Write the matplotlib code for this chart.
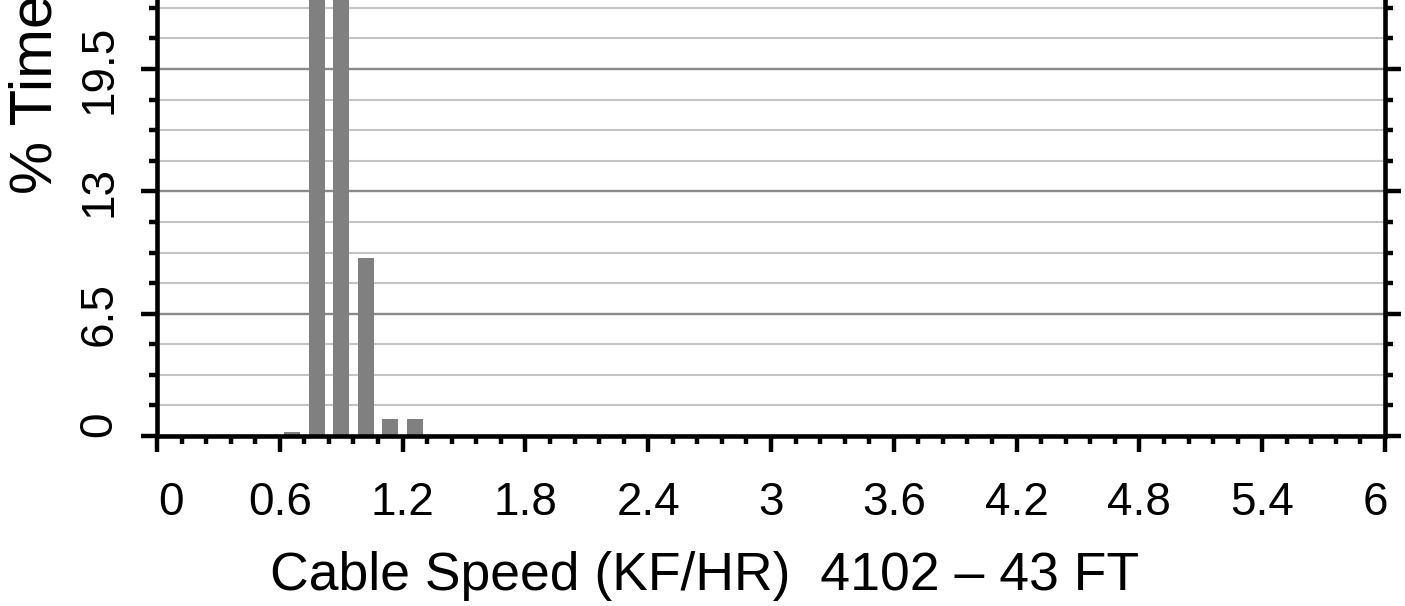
import numpy as np
import matplotlib
matplotlib.use("Agg")
import matplotlib.pyplot as plt
from matplotlib.transforms import ScaledTranslation

plt.rcParams['font.family'] = ['Liberation Sans', 'DejaVu Sans']

# histogram bins (bin centres, KF/HR) and % time
speed = [0.66, 0.78, 0.90, 1.02, 1.14, 1.26]
pct_time = [0.23, 45.0, 43.5, 9.44, 0.89, 0.89]

x_ticks = [0, 0.6, 1.2, 1.8, 2.4, 3, 3.6, 4.2, 4.8, 5.4, 6]
x_labels = ['0', '0.6', '1.2', '1.8', '2.4', '3', '3.6', '4.2', '4.8', '5.4', '6']
y_ticks = [0, 6.5, 13, 19.5, 26]
y_labels = ['0', '6.5', '13', '19.5', '26']

W, H = 1405, 606
fig = plt.figure(figsize=(W / 100, H / 100), dpi=100)

# axes in pixels: x 157..1385, zero line at y=436, ~18.82 px per %
ymax = 26
px_per = 18.82
left, right, zero_y = 157, 1385, 436
ax = fig.add_axes([left / W, (H - zero_y) / H, (right - left) / W, ymax * px_per / H])

ax.bar(speed, pct_time, width=0.078, color='#808080', zorder=3)

ax.set_xlim(0, 6)
ax.set_ylim(0, ymax)
ax.set_xticks(x_ticks)
ax.set_xticklabels(x_labels)
ax.set_xticks(np.arange(0, 6.001, 0.12), minor=True)
ax.set_yticks(y_ticks)
ax.set_yticklabels(y_labels, rotation=90, va='center')
ax.set_yticks(np.arange(0, ymax + 0.01, 1.625), minor=True)

ax.grid(axis='y', which='minor', color='#c4c4c4', lw=1.5, zorder=0)
ax.grid(axis='y', which='major', color='#8a8a8a', lw=1.7, zorder=0)
ax.set_axisbelow(True)

for s in ax.spines.values():
    s.set_linewidth(3.3)
    s.set_zorder(4)

ax.tick_params(which='both', direction='out', width=3.2, color='black',
               left=True, right=True, bottom=True, top=False)
ax.tick_params(which='major', length=11.5)
ax.tick_params(which='minor', length=5.5)
ax.tick_params(axis='x', which='major', labelsize=33, pad=21)
ax.tick_params(axis='y', which='major', labelsize=33, pad=14)

# end labels are pulled inward
xl = ax.get_xticklabels()
xl[0].set_transform(xl[0].get_transform() + ScaledTranslation(0.14, 0, fig.dpi_scale_trans))
xl[-1].set_transform(xl[-1].get_transform() + ScaledTranslation(-0.10, 0, fig.dpi_scale_trans))
yl = ax.get_yticklabels()
yl[0].set_transform(yl[0].get_transform() + ScaledTranslation(0, 0.12, fig.dpi_scale_trans))

fig.text(705 / W, (H - 590) / H, 'Cable Speed (KF/HR)  4102 \u2013 43 FT',
         fontsize=38.5, ha='center', va='baseline')
fig.text(36 / W, (H - 194) / H, '% Time', fontsize=43, rotation=90,
         ha='center', va='bottom')

fig.savefig('out.png', dpi=100)
